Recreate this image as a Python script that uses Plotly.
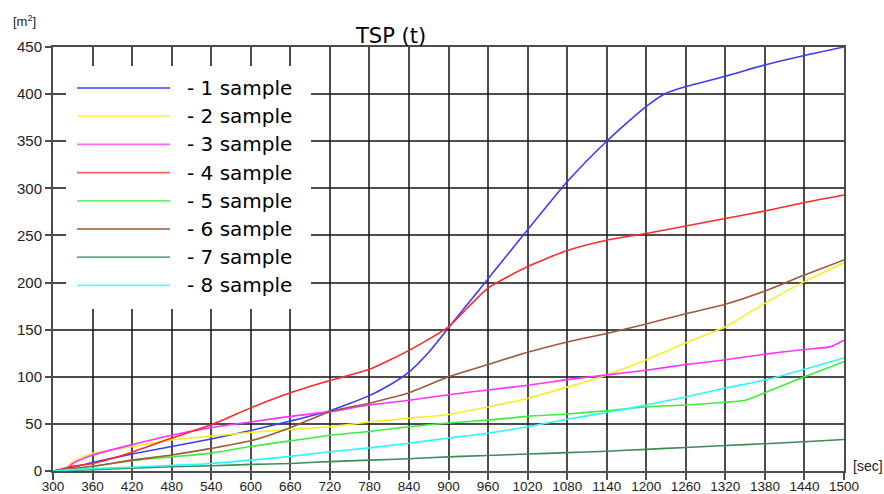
import plotly.graph_objects as go

# ---- data ----
series_names = ["- 1 sample", "- 2 sample", "- 3 sample", "- 4 sample",
                "- 5 sample", "- 6 sample", "- 7 sample", "- 8 sample"]
series_colors = ["#3c3cff", "#f4ee2a", "#ff33ff", "#ff2a2a",
                 "#3cee3c", "#a0583a", "#3f8a5a", "#2ef4ff"]

t1 = [300, 330, 360, 420, 480, 540, 600, 660, 720, 780, 810, 840, 870, 900, 930, 960,
      1020, 1080, 1140, 1200, 1230, 1260, 1320, 1380, 1440, 1500]
v1 = [0, 4, 9, 18, 26, 34, 43, 53, 64, 80, 91, 105, 126, 152, 178, 204,
      256, 307, 350, 387, 401, 408, 419, 431, 441, 450]

t2 = [300, 320, 330, 345, 360, 420, 480, 540, 600, 660, 720, 780, 840, 900, 960,
      1020, 1080, 1140, 1200, 1260, 1320, 1380, 1440, 1500]
v2 = [0, 3, 10, 15, 18.5, 26, 33, 37, 41, 44, 47, 52, 56, 60, 68,
      77, 89, 102, 118, 136, 153, 178, 201, 221]

t3 = [300, 320, 330, 345, 360, 420, 480, 540, 600, 660, 720, 780, 840, 900, 960,
      1020, 1080, 1140, 1200, 1260, 1320, 1380, 1440, 1480, 1500]
v3 = [0, 2, 8, 13, 17, 28, 38, 46, 52, 58, 63, 70, 75, 81, 86,
      91, 97, 102, 107, 113, 118, 124, 129, 132, 139]

t4 = [300, 330, 360, 420, 480, 540, 600, 660, 720, 780, 840, 900, 930, 960,
      1020, 1080, 1140, 1200, 1260, 1320, 1380, 1440, 1500]
v4 = [0, 5, 8, 20, 35, 49, 67, 83, 96, 108, 128, 153, 174, 194,
      217, 234, 245, 252, 260, 268, 276, 285, 293]

t5 = [300, 360, 420, 480, 540, 600, 660, 720, 780, 840, 900, 960, 1020, 1080,
      1140, 1200, 1260, 1320, 1350, 1380, 1440, 1500]
v5 = [0, 5, 11, 15, 19, 26, 32, 38, 42, 47, 51, 54, 58, 60.5,
      64, 68, 70, 73, 75, 83, 100, 116]

t6 = [300, 360, 420, 480, 540, 600, 660, 720, 780, 840, 900, 960, 1020, 1080,
      1140, 1200, 1260, 1320, 1380, 1440, 1500]
v6 = [0, 5, 11.5, 17, 24, 32, 46, 63, 72, 83, 100, 113, 126, 137,
      146, 156, 167, 177, 191, 208, 224]

t7 = [300, 360, 420, 480, 540, 600, 660, 720, 780, 840, 900, 960, 1020, 1080,
      1140, 1200, 1260, 1320, 1380, 1440, 1500]
v7 = [0, 1.5, 3, 4.5, 5.5, 7, 8, 10, 11.5, 13, 15, 16.5, 18, 19.5,
      21, 23, 25, 27, 29, 31, 33.5]

t8 = [300, 360, 420, 480, 540, 600, 660, 720, 780, 840, 900, 960, 1020, 1080,
      1140, 1200, 1260, 1320, 1380, 1440, 1500]
v8 = [0, 2.5, 4, 6, 8, 11.5, 15.5, 20.5, 24.5, 29.5, 35, 40, 47, 55,
      62, 70, 78.5, 88, 96.5, 108, 120]

x_ticks = list(range(300, 1501, 60))
y_ticks = list(range(0, 451, 50))

times = [t1, t2, t3, t4, t5, t6, t7, t8]
values = [v1, v2, v3, v4, v5, v6, v7, v8]

GRID = "rgba(25,25,25,0.78)"
FONT = "Liberation Sans, Arial, sans-serif"

fig = go.Figure()
for name, col, t, v in zip(series_names, series_colors, times, values):
    fig.add_trace(go.Scatter(
        x=t, y=v, mode="lines", name=name, showlegend=False,
        line=dict(color=col, width=1.6, shape="spline", smoothing=0.6),
        hoverinfo="x+y+name"))

# ---- manual legend (white box hiding the grid) ----
W, H, L, T = 791.0, 424.0, 53.0, 47.0
def px_x(p):
    return (p - L) / W
def px_y(p):
    return (T + H - p) / H

shapes = [dict(type="rect", xref="paper", yref="paper",
               x0=px_x(66), x1=px_x(311), y0=px_y(309), y1=px_y(66),
               fillcolor="white", line=dict(width=0), layer="above")]
annotations = []
for i, (name, col) in enumerate(zip(series_names, series_colors)):
    yy = px_y(88 + 28.2 * i)
    shapes.append(dict(type="line", xref="paper", yref="paper",
                       x0=px_x(77), x1=px_x(170), y0=yy, y1=yy,
                       line=dict(color=col, width=1.8), layer="above", opacity=0.75))
    annotations.append(dict(xref="paper", yref="paper", x=px_x(185), y=yy,
                            text=name, showarrow=False, xanchor="left", yanchor="middle",
                            font=dict(family="DejaVu Sans", size=20, color="#000")))

annotations += [
    dict(xref="paper", yref="paper", x=px_x(390), y=px_y(36), text="TSP (t)",
         showarrow=False, xanchor="center", yanchor="middle",
         font=dict(family="DejaVu Sans", size=21, color="#000")),
    dict(xref="paper", yref="paper", x=px_x(11), y=px_y(21), text="[m<sup>2</sup>]",
         showarrow=False, xanchor="left", yanchor="middle",
         font=dict(family=FONT, size=13, color="#222")),
    dict(xref="paper", yref="paper", x=px_x(851), y=px_y(466), text="[sec]",
         showarrow=False, xanchor="left", yanchor="middle",
         font=dict(family=FONT, size=14, color="#222")),
]

fig.update_layout(
    width=884, height=494,
    margin=dict(l=53, r=40, t=47, b=23, autoexpand=False),
    paper_bgcolor="white", plot_bgcolor="white",
    shapes=shapes, annotations=annotations,
    showlegend=False,
    xaxis=dict(range=[300, 1500], tickmode="array", tickvals=x_ticks,
               ticktext=[str(v) for v in x_ticks], automargin=False,
               showgrid=True, gridcolor=GRID, gridwidth=2,
               ticks="outside", ticklen=7, tickwidth=2, tickcolor=GRID,
               ticklabelstandoff=-5,
               showline=True, mirror=True, linecolor=GRID, linewidth=2,
               zeroline=False, tickfont=dict(family=FONT, size=13.5, color="#222")),
    yaxis=dict(range=[0, 450], tickmode="array", tickvals=y_ticks, automargin=False,
               showgrid=True, gridcolor=GRID, gridwidth=2,
               ticks="outside", ticklen=6, tickwidth=2, tickcolor=GRID,
               showline=True, mirror=True, linecolor=GRID, linewidth=2,
               zeroline=False, tickfont=dict(family=FONT, size=15, color="#222")),
)

fig.write_html("out.html", config={"displayModeBar": False},
               post_script="document.body.style.margin='0';document.body.style.padding='0';")
